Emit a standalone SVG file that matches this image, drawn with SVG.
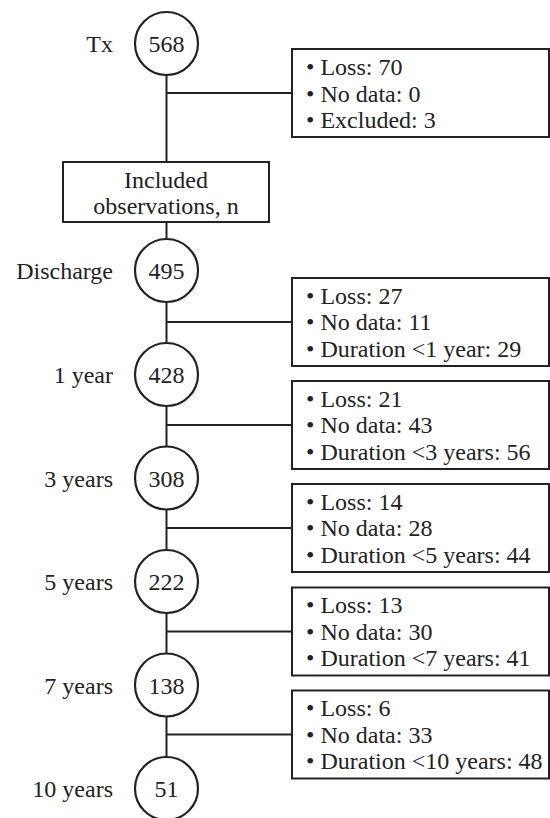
<svg xmlns="http://www.w3.org/2000/svg" width="550" height="818" viewBox="0 0 550 818">
<style>
.ln{stroke:#222;stroke-width:2;fill:none}
.c{fill:#fff;stroke:#222;stroke-width:2.2}
.b{fill:#fff;stroke:#222;stroke-width:2}
text{font-family:"Liberation Serif","Times New Roman",serif;font-size:24px;fill:#222}
.m{text-anchor:middle}
.e{text-anchor:end}
</style>
<rect width="550" height="818" fill="#fff"/>
<g id="connectors">
<path class="ln" d="M166.5 75V162M166.5 222V239M166.5 302V343M166.5 406V446M166.5 510V550M166.5 613V653M166.5 717V757"/>
<path class="ln" d="M166.5 93H292M166.5 322H292M166.5 425H292M166.5 528H292M166.5 631.5H292M166.5 734.5H292"/>
</g>
<g id="n-tx"><circle class="c" cx="166.5" cy="43.5" r="31.5"/><text class="m" x="166.5" y="52">568</text><text class="e" x="113" y="52">Tx</text></g>
<g id="n-included"><rect class="b" x="63" y="162" width="206" height="60"/><text class="m" x="166" y="188">Included</text><text class="m" x="166" y="214">observations, n</text></g>
<g id="n-discharge"><circle class="c" cx="166.5" cy="270.5" r="31.5"/><text class="m" x="166.5" y="279">495</text><text class="e" x="113" y="279">Discharge</text></g>
<g id="n-1y"><circle class="c" cx="166.5" cy="374.5" r="31.5"/><text class="m" x="166.5" y="383">428</text><text class="e" x="113" y="383">1 year</text></g>
<g id="n-3y"><circle class="c" cx="166.5" cy="478" r="31.5"/><text class="m" x="166.5" y="486.5">308</text><text class="e" x="113" y="486.5">3 years</text></g>
<g id="n-5y"><circle class="c" cx="166.5" cy="581.5" r="31.5"/><text class="m" x="166.5" y="590">222</text><text class="e" x="113" y="590">5 years</text></g>
<g id="n-7y"><circle class="c" cx="166.5" cy="685" r="31.5"/><text class="m" x="166.5" y="693.5">138</text><text class="e" x="113" y="693.5">7 years</text></g>
<g id="n-10y"><circle class="c" cx="166.5" cy="788.5" r="31.5"/><text class="m" x="166.5" y="797">51</text><text class="e" x="113" y="797">10 years</text></g>
<g id="x-0"><rect class="b" x="292" y="49" width="257" height="88"/><text x="306" y="75">• Loss: 70</text><text x="306" y="101.5">• No data: 0</text><text x="306" y="128">• Excluded: 3</text></g>
<g id="x-1"><rect class="b" x="292" y="278" width="257" height="88"/><text x="306" y="303.5">• Loss: 27</text><text x="306" y="330">• No data: 11</text><text x="306" y="356.5">• Duration &lt;1 year: 29</text></g>
<g id="x-2"><rect class="b" x="292" y="381" width="257" height="88"/><text x="306" y="406.5">• Loss: 21</text><text x="306" y="433">• No data: 43</text><text x="306" y="459.5">• Duration &lt;3 years: 56</text></g>
<g id="x-3"><rect class="b" x="292" y="484" width="257" height="88"/><text x="306" y="509.5">• Loss: 14</text><text x="306" y="536">• No data: 28</text><text x="306" y="562.5">• Duration &lt;5 years: 44</text></g>
<g id="x-4"><rect class="b" x="292" y="587.5" width="257" height="88"/><text x="306" y="613">• Loss: 13</text><text x="306" y="639.5">• No data: 30</text><text x="306" y="666">• Duration &lt;7 years: 41</text></g>
<g id="x-5"><rect class="b" x="292" y="690.5" width="257" height="88"/><text x="306" y="716">• Loss: 6</text><text x="306" y="742.5">• No data: 33</text><text x="306" y="769">• Duration &lt;10 years: 48</text></g>
</svg>
